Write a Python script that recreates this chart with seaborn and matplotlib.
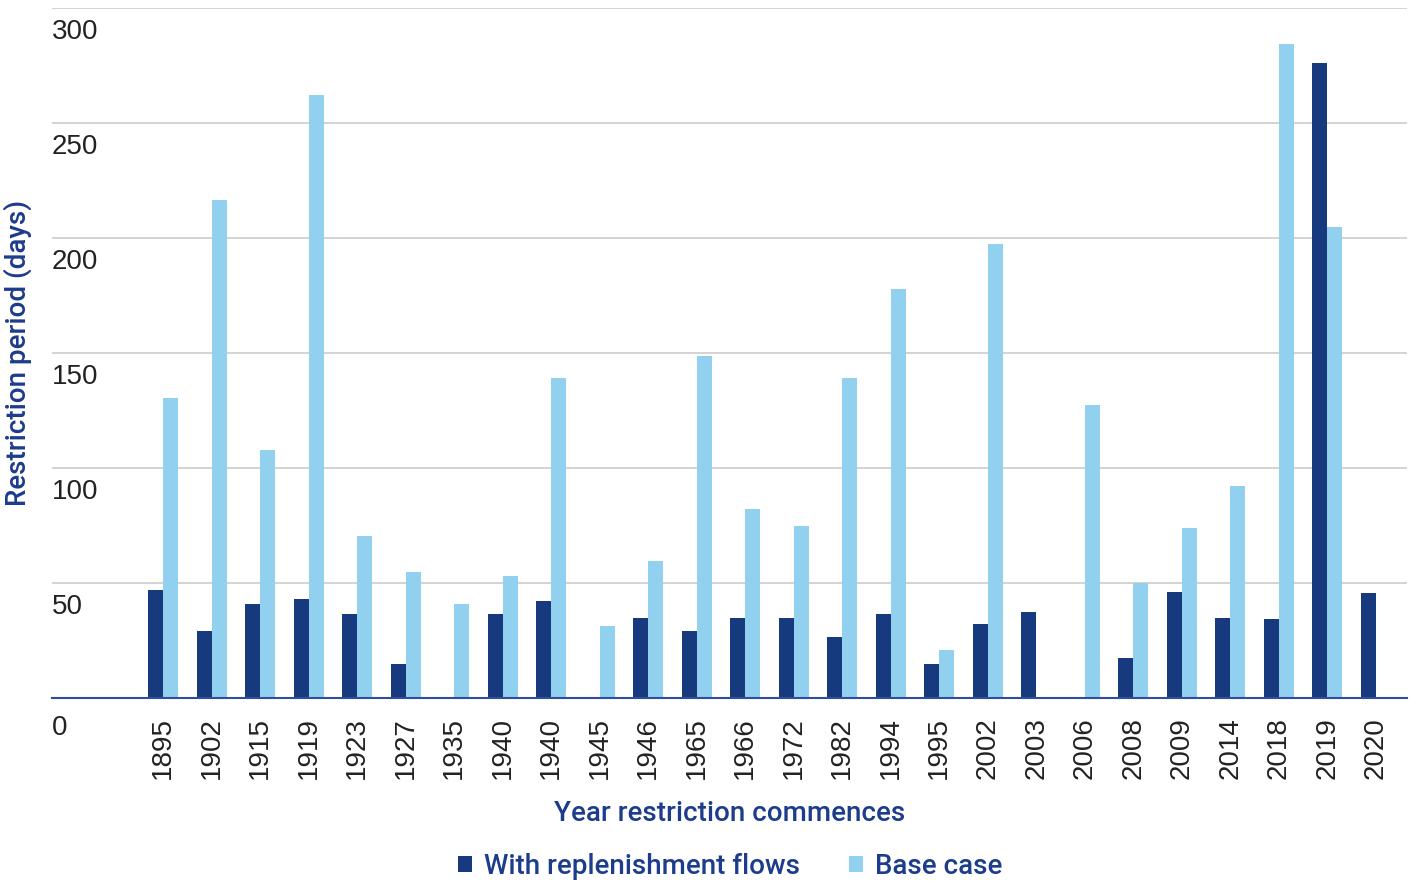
#importing libraries
import pandas as pd
from matplotlib import pyplot as plt
import seaborn as sns

# data (days); 0 = no bar
years = ['1895', '1902', '1915', '1919', '1923', '1927', '1935', '1940', '1940', '1945',
         '1946', '1965', '1966', '1972', '1982', '1994', '1995', '2002', '2003', '2006',
         '2008', '2009', '2014', '2018', '2019', '2020']
replenishment = [47, 29, 41, 43, 36.5, 15, 0, 36.5, 42, 0,
                 35, 29, 35, 35, 26.5, 36.5, 15, 32, 37.5, 0,
                 17.5, 46, 35, 34.5, 276, 45.5]
base_case = [130.5, 216.5, 108, 262, 70.5, 55, 41, 53, 139, 31.5,
             59.5, 148.5, 82, 75, 139, 178, 21, 197.5, 0, 127.5,
             50, 74, 92, 284.5, 205, 0]
series_names = ['With replenishment flows', 'Base case']
y_ticks = [0, 50, 100, 150, 200, 250, 300]

navy = '#173a7e'
light = '#92d0f0'
label_col = '#1c3c8c'

sns.set_theme(style='white')
plt.rcParams['font.family'] = ['Liberation Sans', 'DejaVu Sans']

n = len(years)
df = pd.DataFrame({
    'slot': list(range(n)) * 2,
    'days': replenishment + base_case,
    'series': [series_names[0]] * n + [series_names[1]] * n,
})

fig = plt.figure(figsize=(14.15, 8.82), dpi=100)
ax = fig.add_axes([0.0367, 0.2086, 0.9576, 0.7823])

sns.barplot(data=df, x='slot', y='days', hue='series', hue_order=series_names,
            order=list(range(n)), palette=[navy, light], saturation=1,
            width=0.62, gap=0, linewidth=0, ax=ax)

ax.set_xlim(-2.29, 25.64)
ax.set_ylim(0, 300)

# x axis
ax.set_xticks(range(n))
ax.set_xticklabels(years, rotation=90, fontsize=20, color='#222222')
ax.tick_params(axis='x', length=0, pad=14)

# y axis: labels sit just under each gridline, inside the plot
ax.set_yticks(y_ticks)
ax.set_yticklabels([])
ax.tick_params(axis='y', length=0)
for v in y_ticks:
    ax.annotate(str(v), xy=(0, v), xycoords=('axes fraction', 'data'),
                xytext=(0, -8 if v else -12), textcoords='offset points',
                ha='left', va='top', fontsize=20, color='#222222')

ax.yaxis.grid(True, color='#d0d0d0', lw=1.3)
ax.set_axisbelow(True)
for s in ['top', 'right', 'left']:
    ax.spines[s].set_visible(False)
ax.spines['bottom'].set_color('#2f4e9e')
ax.spines['bottom'].set_linewidth(1.5)

ax.set_xlabel('Year restriction commences', fontsize=20, color=label_col,
              family='Roboto', weight='medium')
ax.xaxis.set_label_coords(0.5, -0.148)
ax.set_ylabel('Restriction period (days)', fontsize=20, color=label_col,
              family='Roboto', weight='medium')
ax.yaxis.set_label_coords(-0.0148, 0.5)

leg = ax.legend(loc='center', bbox_to_anchor=(0.516, 0.018),
                bbox_transform=fig.transFigure, ncol=2, frameon=False,
                handlelength=0.5, handleheight=0.5, handletextpad=0.45,
                columnspacing=1.75,
                prop={'family': 'Roboto', 'weight': 'medium', 'size': 20})
for t in leg.get_texts():
    t.set_color(label_col)

fig.savefig('out.png', dpi=100)
